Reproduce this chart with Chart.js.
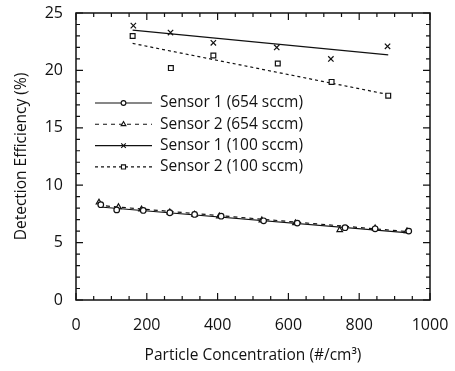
<!DOCTYPE html>
<html>
<head>
<meta charset="utf-8">
<script src="https://cdn.jsdelivr.net/npm/chart.js@4/dist/chart.umd.min.js"></script>
<style>
  html, body { margin: 0; padding: 0; background: #fff; }
  #wrap { width: 455px; height: 371px; }
</style>
</head>
<body>
<div id="wrap"><canvas id="c"></canvas></div>
<script>
const SERIES_NAMES = [
  "Sensor 1 (654 sccm)",
  "Sensor 2 (654 sccm)",
  "Sensor 1 (100 sccm)",
  "Sensor 2 (100 sccm)",
];

// measured points
const S1_654_X = [70, 115, 190, 265, 335, 410, 530, 625, 760, 845, 940];
const S1_654_Y = [8.3, 7.85, 7.8, 7.6, 7.45, 7.3, 6.9, 6.7, 6.3, 6.2, 6.0];
const S2_654_X = [65, 120, 185, 265, 335, 405, 525, 620, 745, 845, 935];
const S2_654_Y = [8.5, 8.1, 7.9, 7.65, 7.45, 7.3, 6.95, 6.7, 6.1, 6.25, 6.0];
const S1_100_X = [162, 267, 388, 567, 720, 880];
const S1_100_Y = [23.9, 23.3, 22.4, 22.0, 21.0, 22.1];
const S2_100_X = [160, 268, 388, 570, 722, 882];
const S2_100_Y = [23.0, 20.2, 21.3, 20.6, 19.0, 17.8];

// linear fits (end points)
const FIT_S1_654 = [[68, 8.1], [940, 5.85]];
const FIT_S2_654 = [[62, 8.25], [940, 5.95]];
const FIT_S1_100 = [[160, 23.5], [882, 21.35]];
const FIT_S2_100 = [[160, 22.35], [882, 17.9]];

const X_TICKS = [0, 200, 400, 600, 800, 1000];
const Y_TICKS = [0, 5, 10, 15, 20, 25];
const X_MINOR = 50;
const Y_MINOR = 1;

const FONT = "'Open Sans', 'DejaVu Sans', sans-serif";
const INK = "#111";

function pts(xs, ys) {
  return xs.map((x, i) => ({ x, y: ys[i] }));
}
function fit(p) {
  return p.map(([x, y]) => ({ x, y }));
}

/** Marker/line styling per series (index matches SERIES_NAMES). */
const STYLES = [
  { pointStyle: "circle", radius: 2.8, dash: [] },
  { pointStyle: "triangle", radius: 3.2, dash: [4, 4] },
  { pointStyle: "crossRot", radius: 3.8, dash: [] },
  { pointStyle: "rect", radius: 3.4, dash: [3, 3] },
];

function pointSet(i, data) {
  const s = STYLES[i];
  return {
    label: SERIES_NAMES[i],
    data,
    showLine: false,
    pointStyle: s.pointStyle,
    pointRadius: s.radius,
    pointBorderWidth: 1.2,
    pointBorderColor: INK,
    pointBackgroundColor: "#fff",
  };
}
function fitSet(i, data) {
  return {
    label: SERIES_NAMES[i] + " fit",
    data,
    showLine: true,
    borderColor: INK,
    borderWidth: 1.2,
    borderDash: STYLES[i].dash,
    pointRadius: 0,
    fill: false,
  };
}

/** Closed frame with inward major/minor ticks on all four sides. */
function drawFrame(chart) {
  const { ctx, chartArea: a } = chart;
  const xs = chart.scales.x, ys = chart.scales.y;
  const xMax = X_TICKS[X_TICKS.length - 1], yMax = Y_TICKS[Y_TICKS.length - 1];
  const xMajor = X_TICKS[1] - X_TICKS[0], yMajor = Y_TICKS[1] - Y_TICKS[0];
  ctx.setLineDash([]);
  ctx.strokeStyle = INK;
  ctx.lineWidth = 1.5;
  ctx.strokeRect(a.left, a.top, a.right - a.left, a.bottom - a.top);
  ctx.lineWidth = 1.2;
  ctx.beginPath();
  for (let v = X_TICKS[0]; v <= xMax; v += X_MINOR) {
    const len = v % xMajor === 0 ? 7 : 4;
    const px = xs.getPixelForValue(v);
    ctx.moveTo(px, a.bottom); ctx.lineTo(px, a.bottom - len);
    ctx.moveTo(px, a.top); ctx.lineTo(px, a.top + len);
  }
  for (let v = Y_TICKS[0]; v <= yMax; v += Y_MINOR) {
    const len = v % yMajor === 0 ? 7 : 4;
    const py = ys.getPixelForValue(v);
    ctx.moveTo(a.left, py); ctx.lineTo(a.left + len, py);
    ctx.moveTo(a.right, py); ctx.lineTo(a.right - len, py);
  }
  ctx.stroke();
}

function drawLegend(chart) {
  const { ctx, chartArea: a } = chart;
  const x0 = a.left + 19, x1 = a.left + 76;
  ctx.font = `15.5px ${FONT}`;
  ctx.textBaseline = "middle";
  ctx.textAlign = "left";
  SERIES_NAMES.forEach((name, i) => {
    const y = a.top + 90 + i * 21.3;
    const s = STYLES[i];
    ctx.strokeStyle = INK;
    ctx.lineWidth = 1.1;
    ctx.setLineDash(s.dash);
    ctx.beginPath();
    ctx.moveTo(x0, y); ctx.lineTo(x1, y);
    ctx.stroke();
    ctx.setLineDash([]);
    ctx.fillStyle = "#fff";
    Chart.helpers.drawPoint(ctx, { pointStyle: s.pointStyle, radius: s.radius * 0.85, rotation: 0, borderWidth: 1.1 }, (x0 + x1) / 2, y);
    ctx.fillStyle = INK;
    ctx.fillText(name, x1 + 8, y);
  });
}

const framePlugin = {
  id: "frameLegend",
  afterDraw(chart) {
    chart.ctx.save();
    drawFrame(chart);
    chart.ctx.restore();
    chart.ctx.save();
    drawLegend(chart);
    chart.ctx.restore();
  },
};

new Chart(document.getElementById("c"), {
  type: "scatter",
  data: {
    datasets: [
      pointSet(0, pts(S1_654_X, S1_654_Y)),
      pointSet(1, pts(S2_654_X, S2_654_Y)),
      pointSet(2, pts(S1_100_X, S1_100_Y)),
      pointSet(3, pts(S2_100_X, S2_100_Y)),
      fitSet(0, fit(FIT_S1_654)),
      fitSet(1, fit(FIT_S2_654)),
      fitSet(2, fit(FIT_S1_100)),
      fitSet(3, fit(FIT_S2_100)),
    ],
  },
  options: {
    responsive: true,
    maintainAspectRatio: false,
    animation: false,
    layout: { padding: { top: 13, right: 25, left: 0, bottom: 0 } },
    plugins: {
      legend: { display: false },
      tooltip: { enabled: false },
    },
    scales: {
      x: {
        type: "linear",
        min: X_TICKS[0],
        max: X_TICKS[X_TICKS.length - 1],
        afterFit: (s) => { s.height = 71; s.paddingLeft = 0; s.paddingRight = 0; },
        grid: { display: false, drawTicks: false },
        border: { display: false },
        ticks: {
          stepSize: X_TICKS[1] - X_TICKS[0],
          color: INK,
          font: { family: FONT, size: 16 },
          padding: 16,
          maxRotation: 0,
          callback: (v) => String(v),
        },
        title: {
          display: true,
          text: "Particle Concentration (#/cm³)",
          color: INK,
          font: { family: FONT, size: 15.5 },
          padding: { top: 0, bottom: 6 },
        },
      },
      y: {
        type: "linear",
        min: Y_TICKS[0],
        max: Y_TICKS[Y_TICKS.length - 1],
        afterFit: (s) => { s.width = 76; s.paddingTop = 0; s.paddingBottom = 0; },
        grid: { display: false, drawTicks: false },
        border: { display: false },
        ticks: {
          stepSize: Y_TICKS[1] - Y_TICKS[0],
          color: INK,
          font: { family: FONT, size: 16 },
          padding: 13,
          callback: (v) => String(v),
        },
        title: {
          display: true,
          text: "Detection Efficiency (%)",
          color: INK,
          font: { family: FONT, size: 15.5 },
          padding: { top: 12, bottom: 0 },
        },
      },
    },
  },
  plugins: [framePlugin],
});
</script>
</body>
</html>
